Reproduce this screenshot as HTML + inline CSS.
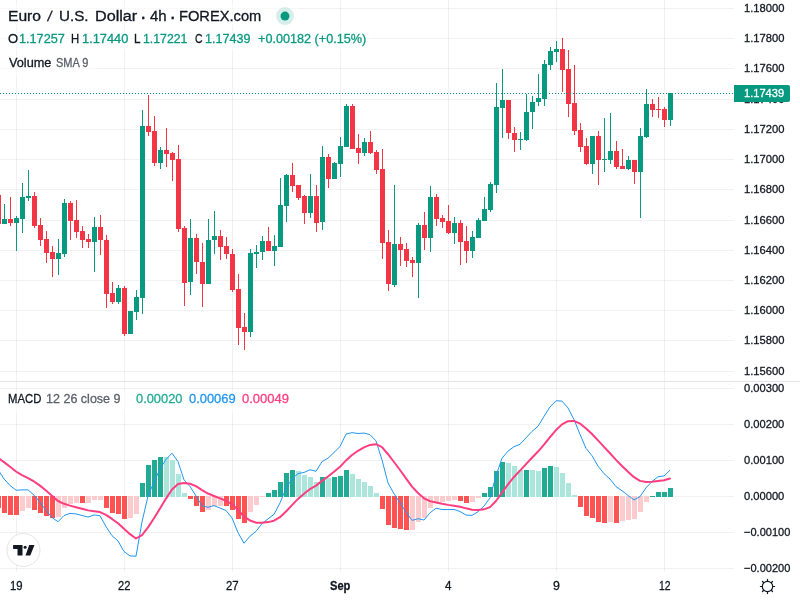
<!DOCTYPE html><html><head><meta charset="utf-8"><title>EURUSD chart</title><style>
html,body{margin:0;padding:0;background:#fff}body{width:800px;height:600px;position:relative;overflow:hidden;font-family:"Liberation Sans",sans-serif}
.t{position:absolute;white-space:pre;line-height:1;margin:0;padding:0;transform-origin:0 0;-webkit-text-stroke:0.3px currentColor}
</style></head><body>
<svg width="800" height="600" viewBox="0 0 800 600" style="position:absolute;left:0;top:0" shape-rendering="crispEdges">
<g fill="#2a2e39" fill-opacity="0.065">
<rect x="16" y="0" width="1" height="572"/>
<rect x="124" y="0" width="1" height="572"/>
<rect x="232" y="0" width="1" height="572"/>
<rect x="340" y="0" width="1" height="572"/>
<rect x="448" y="0" width="1" height="572"/>
<rect x="556" y="0" width="1" height="572"/>
<rect x="664" y="0" width="1" height="572"/>
<rect x="0" y="8" width="734" height="1"/>
<rect x="0" y="38" width="734" height="1"/>
<rect x="0" y="68" width="734" height="1"/>
<rect x="0" y="99" width="734" height="1"/>
<rect x="0" y="129" width="734" height="1"/>
<rect x="0" y="159" width="734" height="1"/>
<rect x="0" y="189" width="734" height="1"/>
<rect x="0" y="220" width="734" height="1"/>
<rect x="0" y="250" width="734" height="1"/>
<rect x="0" y="280" width="734" height="1"/>
<rect x="0" y="310" width="734" height="1"/>
<rect x="0" y="340" width="734" height="1"/>
<rect x="0" y="371" width="734" height="1"/>
<rect x="0" y="388" width="734" height="1"/>
<rect x="0" y="424" width="734" height="1"/>
<rect x="0" y="460" width="734" height="1"/>
<rect x="0" y="496" width="734" height="1"/>
<rect x="0" y="532" width="734" height="1"/>
<rect x="0" y="568" width="734" height="1"/>
</g>
<g fill="#fff" fill-opacity="0.55"><rect x="0" y="4" width="298" height="24"/><rect x="0" y="30" width="371" height="20"/><rect x="0" y="56" width="97" height="20"/><rect x="0" y="391" width="295" height="20"/></g>
<rect x="0" y="381" width="800" height="1" fill="#e0e3eb"/>
<g>
<rect x="-4" y="496" width="5" height="12" fill="#ff5252"/>
<rect x="2" y="496" width="5" height="17" fill="#ff5252"/>
<rect x="8" y="496" width="5" height="19" fill="#ff5252"/>
<rect x="14" y="496" width="5" height="19" fill="#ff5252"/>
<rect x="20" y="496" width="5" height="15" fill="#fccbcd"/>
<rect x="26" y="496" width="5" height="12" fill="#fccbcd"/>
<rect x="32" y="496" width="5" height="14" fill="#ff5252"/>
<rect x="38" y="496" width="5" height="17" fill="#ff5252"/>
<rect x="44" y="496" width="5" height="20" fill="#ff5252"/>
<rect x="50" y="496" width="5" height="22" fill="#ff5252"/>
<rect x="56" y="496" width="5" height="21" fill="#fccbcd"/>
<rect x="62" y="496" width="5" height="12" fill="#fccbcd"/>
<rect x="68" y="496" width="5" height="8" fill="#fccbcd"/>
<rect x="74" y="496" width="5" height="7" fill="#fccbcd"/>
<rect x="80" y="496" width="5" height="7" fill="#ff5252"/>
<rect x="86" y="496" width="5" height="7" fill="#fccbcd"/>
<rect x="92" y="496" width="5" height="4" fill="#fccbcd"/>
<rect x="98" y="496" width="5" height="4" fill="#fccbcd"/>
<rect x="104" y="496" width="5" height="12" fill="#ff5252"/>
<rect x="110" y="496" width="5" height="17" fill="#ff5252"/>
<rect x="116" y="496" width="5" height="18" fill="#ff5252"/>
<rect x="122" y="496" width="5" height="23" fill="#ff5252"/>
<rect x="128" y="496" width="5" height="22" fill="#fccbcd"/>
<rect x="134" y="496" width="5" height="18" fill="#fccbcd"/>
<rect x="140" y="483" width="5" height="14" fill="#22ab94"/>
<rect x="146" y="465" width="5" height="32" fill="#22ab94"/>
<rect x="152" y="460" width="5" height="37" fill="#22ab94"/>
<rect x="158" y="457" width="5" height="40" fill="#22ab94"/>
<rect x="164" y="457" width="5" height="40" fill="#ace5dc"/>
<rect x="170" y="460" width="5" height="37" fill="#ace5dc"/>
<rect x="176" y="474" width="5" height="23" fill="#ace5dc"/>
<rect x="182" y="493" width="5" height="4" fill="#ace5dc"/>
<rect x="188" y="496" width="5" height="3" fill="#ff5252"/>
<rect x="194" y="496" width="5" height="10" fill="#ff5252"/>
<rect x="200" y="496" width="5" height="16" fill="#ff5252"/>
<rect x="206" y="496" width="5" height="14" fill="#fccbcd"/>
<rect x="212" y="496" width="5" height="10" fill="#fccbcd"/>
<rect x="218" y="496" width="5" height="10" fill="#fccbcd"/>
<rect x="224" y="496" width="5" height="10" fill="#ff5252"/>
<rect x="230" y="496" width="5" height="14" fill="#ff5252"/>
<rect x="236" y="496" width="5" height="23" fill="#ff5252"/>
<rect x="242" y="496" width="5" height="27" fill="#ff5252"/>
<rect x="248" y="496" width="5" height="16" fill="#fccbcd"/>
<rect x="254" y="496" width="5" height="9" fill="#fccbcd"/>
<rect x="260" y="496" width="5" height="1" fill="#fccbcd"/>
<rect x="266" y="493" width="5" height="4" fill="#22ab94"/>
<rect x="272" y="490" width="5" height="7" fill="#22ab94"/>
<rect x="278" y="482" width="5" height="15" fill="#22ab94"/>
<rect x="284" y="473" width="5" height="24" fill="#22ab94"/>
<rect x="290" y="470" width="5" height="27" fill="#22ab94"/>
<rect x="296" y="471" width="5" height="26" fill="#ace5dc"/>
<rect x="302" y="475" width="5" height="22" fill="#ace5dc"/>
<rect x="308" y="477" width="5" height="20" fill="#ace5dc"/>
<rect x="314" y="482" width="5" height="15" fill="#ace5dc"/>
<rect x="320" y="477" width="5" height="20" fill="#22ab94"/>
<rect x="326" y="478" width="5" height="19" fill="#ace5dc"/>
<rect x="332" y="477" width="5" height="20" fill="#22ab94"/>
<rect x="338" y="476" width="5" height="21" fill="#22ab94"/>
<rect x="344" y="470" width="5" height="27" fill="#22ab94"/>
<rect x="350" y="474" width="5" height="23" fill="#ace5dc"/>
<rect x="356" y="479" width="5" height="18" fill="#ace5dc"/>
<rect x="362" y="482" width="5" height="15" fill="#ace5dc"/>
<rect x="368" y="486" width="5" height="11" fill="#ace5dc"/>
<rect x="374" y="493" width="5" height="4" fill="#ace5dc"/>
<rect x="380" y="496" width="5" height="13" fill="#ff5252"/>
<rect x="386" y="496" width="5" height="29" fill="#ff5252"/>
<rect x="392" y="496" width="5" height="32" fill="#ff5252"/>
<rect x="398" y="496" width="5" height="33" fill="#ff5252"/>
<rect x="404" y="496" width="5" height="34" fill="#ff5252"/>
<rect x="410" y="496" width="5" height="34" fill="#fccbcd"/>
<rect x="416" y="496" width="5" height="26" fill="#fccbcd"/>
<rect x="422" y="496" width="5" height="22" fill="#fccbcd"/>
<rect x="428" y="496" width="5" height="12" fill="#fccbcd"/>
<rect x="434" y="496" width="5" height="6" fill="#fccbcd"/>
<rect x="440" y="496" width="5" height="6" fill="#fccbcd"/>
<rect x="446" y="496" width="5" height="5" fill="#fccbcd"/>
<rect x="452" y="496" width="5" height="4" fill="#fccbcd"/>
<rect x="458" y="496" width="5" height="5" fill="#ff5252"/>
<rect x="464" y="496" width="5" height="7" fill="#ff5252"/>
<rect x="470" y="496" width="5" height="6" fill="#fccbcd"/>
<rect x="476" y="496" width="5" height="2" fill="#fccbcd"/>
<rect x="482" y="493" width="5" height="4" fill="#22ab94"/>
<rect x="488" y="487" width="5" height="10" fill="#22ab94"/>
<rect x="494" y="471" width="5" height="26" fill="#22ab94"/>
<rect x="500" y="462" width="5" height="35" fill="#22ab94"/>
<rect x="506" y="463" width="5" height="34" fill="#ace5dc"/>
<rect x="512" y="466" width="5" height="31" fill="#ace5dc"/>
<rect x="518" y="470" width="5" height="27" fill="#ace5dc"/>
<rect x="524" y="470" width="5" height="27" fill="#22ab94"/>
<rect x="530" y="470" width="5" height="27" fill="#ace5dc"/>
<rect x="536" y="471" width="5" height="26" fill="#ace5dc"/>
<rect x="542" y="468" width="5" height="29" fill="#22ab94"/>
<rect x="548" y="466" width="5" height="31" fill="#22ab94"/>
<rect x="554" y="467" width="5" height="30" fill="#ace5dc"/>
<rect x="560" y="473" width="5" height="24" fill="#ace5dc"/>
<rect x="566" y="483" width="5" height="14" fill="#ace5dc"/>
<rect x="572" y="495" width="5" height="2" fill="#ace5dc"/>
<rect x="578" y="496" width="5" height="11" fill="#ff5252"/>
<rect x="584" y="496" width="5" height="20" fill="#ff5252"/>
<rect x="590" y="496" width="5" height="22" fill="#ff5252"/>
<rect x="596" y="496" width="5" height="26" fill="#ff5252"/>
<rect x="602" y="496" width="5" height="27" fill="#ff5252"/>
<rect x="608" y="496" width="5" height="26" fill="#fccbcd"/>
<rect x="614" y="496" width="5" height="27" fill="#ff5252"/>
<rect x="620" y="496" width="5" height="25" fill="#fccbcd"/>
<rect x="626" y="496" width="5" height="24" fill="#fccbcd"/>
<rect x="632" y="496" width="5" height="23" fill="#fccbcd"/>
<rect x="638" y="496" width="5" height="16" fill="#fccbcd"/>
<rect x="644" y="496" width="5" height="6" fill="#fccbcd"/>
<rect x="650" y="496" width="5" height="1" fill="#22ab94"/>
<rect x="656" y="492" width="5" height="5" fill="#22ab94"/>
<rect x="662" y="492" width="5" height="5" fill="#22ab94"/>
<rect x="668" y="488" width="5" height="9" fill="#22ab94"/>
</g>
<g>
<rect x="-2" y="195" width="1" height="29" fill="#f23645"/>
<rect x="-4" y="195" width="5" height="29" fill="#f23645"/>
<rect x="4" y="204" width="1" height="20" fill="#089981"/>
<rect x="2" y="219" width="5" height="5" fill="#089981"/>
<rect x="10" y="197" width="1" height="29" fill="#f23645"/>
<rect x="8" y="219" width="5" height="4" fill="#f23645"/>
<rect x="16" y="216" width="1" height="35" fill="#089981"/>
<rect x="14" y="218" width="5" height="5" fill="#089981"/>
<rect x="22" y="183" width="1" height="50" fill="#089981"/>
<rect x="20" y="197" width="5" height="22" fill="#089981"/>
<rect x="28" y="170" width="1" height="31" fill="#089981"/>
<rect x="26" y="196" width="5" height="2" fill="#089981"/>
<rect x="34" y="192" width="1" height="36" fill="#f23645"/>
<rect x="32" y="196" width="5" height="30" fill="#f23645"/>
<rect x="40" y="218" width="1" height="28" fill="#f23645"/>
<rect x="38" y="225" width="5" height="15" fill="#f23645"/>
<rect x="46" y="231" width="1" height="32" fill="#f23645"/>
<rect x="44" y="239" width="5" height="14" fill="#f23645"/>
<rect x="52" y="246" width="1" height="31" fill="#f23645"/>
<rect x="50" y="252" width="5" height="7" fill="#f23645"/>
<rect x="58" y="239" width="1" height="36" fill="#089981"/>
<rect x="56" y="253" width="5" height="6" fill="#089981"/>
<rect x="64" y="199" width="1" height="58" fill="#089981"/>
<rect x="62" y="203" width="5" height="51" fill="#089981"/>
<rect x="70" y="201" width="1" height="39" fill="#f23645"/>
<rect x="68" y="203" width="5" height="18" fill="#f23645"/>
<rect x="76" y="200" width="1" height="38" fill="#f23645"/>
<rect x="74" y="220" width="5" height="12" fill="#f23645"/>
<rect x="82" y="226" width="1" height="22" fill="#f23645"/>
<rect x="80" y="231" width="5" height="9" fill="#f23645"/>
<rect x="88" y="234" width="1" height="14" fill="#f23645"/>
<rect x="86" y="239" width="5" height="3" fill="#f23645"/>
<rect x="94" y="217" width="1" height="55" fill="#089981"/>
<rect x="92" y="227" width="5" height="15" fill="#089981"/>
<rect x="100" y="215" width="1" height="40" fill="#f23645"/>
<rect x="98" y="227" width="5" height="13" fill="#f23645"/>
<rect x="106" y="235" width="1" height="73" fill="#f23645"/>
<rect x="104" y="240" width="5" height="54" fill="#f23645"/>
<rect x="112" y="282" width="1" height="22" fill="#f23645"/>
<rect x="110" y="293" width="5" height="9" fill="#f23645"/>
<rect x="118" y="285" width="1" height="19" fill="#089981"/>
<rect x="116" y="288" width="5" height="14" fill="#089981"/>
<rect x="124" y="286" width="1" height="50" fill="#f23645"/>
<rect x="122" y="288" width="5" height="46" fill="#f23645"/>
<rect x="130" y="311" width="1" height="23" fill="#089981"/>
<rect x="128" y="311" width="5" height="23" fill="#089981"/>
<rect x="136" y="290" width="1" height="30" fill="#089981"/>
<rect x="134" y="297" width="5" height="15" fill="#089981"/>
<rect x="142" y="110" width="1" height="204" fill="#089981"/>
<rect x="140" y="126" width="5" height="172" fill="#089981"/>
<rect x="148" y="95" width="1" height="41" fill="#f23645"/>
<rect x="146" y="126" width="5" height="6" fill="#f23645"/>
<rect x="154" y="116" width="1" height="50" fill="#f23645"/>
<rect x="152" y="131" width="5" height="32" fill="#f23645"/>
<rect x="160" y="147" width="1" height="22" fill="#089981"/>
<rect x="158" y="150" width="5" height="13" fill="#089981"/>
<rect x="166" y="128" width="1" height="39" fill="#f23645"/>
<rect x="164" y="150" width="5" height="4" fill="#f23645"/>
<rect x="172" y="152" width="1" height="29" fill="#f23645"/>
<rect x="170" y="153" width="5" height="7" fill="#f23645"/>
<rect x="178" y="145" width="1" height="87" fill="#f23645"/>
<rect x="176" y="159" width="5" height="70" fill="#f23645"/>
<rect x="184" y="226" width="1" height="80" fill="#f23645"/>
<rect x="182" y="228" width="5" height="55" fill="#f23645"/>
<rect x="190" y="219" width="1" height="76" fill="#089981"/>
<rect x="188" y="238" width="5" height="44" fill="#089981"/>
<rect x="196" y="234" width="1" height="40" fill="#f23645"/>
<rect x="194" y="238" width="5" height="24" fill="#f23645"/>
<rect x="202" y="243" width="1" height="64" fill="#f23645"/>
<rect x="200" y="262" width="5" height="22" fill="#f23645"/>
<rect x="208" y="219" width="1" height="65" fill="#089981"/>
<rect x="206" y="240" width="5" height="44" fill="#089981"/>
<rect x="214" y="211" width="1" height="43" fill="#089981"/>
<rect x="212" y="236" width="5" height="4" fill="#089981"/>
<rect x="220" y="230" width="1" height="30" fill="#f23645"/>
<rect x="218" y="236" width="5" height="11" fill="#f23645"/>
<rect x="226" y="237" width="1" height="22" fill="#f23645"/>
<rect x="224" y="246" width="5" height="8" fill="#f23645"/>
<rect x="232" y="249" width="1" height="43" fill="#f23645"/>
<rect x="230" y="254" width="5" height="36" fill="#f23645"/>
<rect x="238" y="274" width="1" height="71" fill="#f23645"/>
<rect x="236" y="289" width="5" height="39" fill="#f23645"/>
<rect x="244" y="313" width="1" height="37" fill="#f23645"/>
<rect x="242" y="327" width="5" height="5" fill="#f23645"/>
<rect x="250" y="249" width="1" height="88" fill="#089981"/>
<rect x="248" y="253" width="5" height="79" fill="#089981"/>
<rect x="256" y="245" width="1" height="23" fill="#089981"/>
<rect x="254" y="252" width="5" height="2" fill="#089981"/>
<rect x="262" y="236" width="1" height="24" fill="#089981"/>
<rect x="260" y="241" width="5" height="11" fill="#089981"/>
<rect x="268" y="227" width="1" height="24" fill="#f23645"/>
<rect x="266" y="241" width="5" height="10" fill="#f23645"/>
<rect x="274" y="235" width="1" height="31" fill="#089981"/>
<rect x="272" y="246" width="5" height="5" fill="#089981"/>
<rect x="280" y="178" width="1" height="69" fill="#089981"/>
<rect x="278" y="205" width="5" height="42" fill="#089981"/>
<rect x="286" y="174" width="1" height="48" fill="#089981"/>
<rect x="284" y="175" width="5" height="31" fill="#089981"/>
<rect x="292" y="163" width="1" height="29" fill="#f23645"/>
<rect x="290" y="175" width="5" height="11" fill="#f23645"/>
<rect x="298" y="185" width="1" height="15" fill="#f23645"/>
<rect x="296" y="185" width="5" height="13" fill="#f23645"/>
<rect x="304" y="195" width="1" height="29" fill="#f23645"/>
<rect x="302" y="196" width="5" height="17" fill="#f23645"/>
<rect x="310" y="174" width="1" height="44" fill="#089981"/>
<rect x="308" y="196" width="5" height="17" fill="#089981"/>
<rect x="316" y="185" width="1" height="47" fill="#f23645"/>
<rect x="314" y="196" width="5" height="27" fill="#f23645"/>
<rect x="322" y="146" width="1" height="84" fill="#089981"/>
<rect x="320" y="157" width="5" height="65" fill="#089981"/>
<rect x="328" y="154" width="1" height="34" fill="#f23645"/>
<rect x="326" y="157" width="5" height="22" fill="#f23645"/>
<rect x="334" y="162" width="1" height="17" fill="#089981"/>
<rect x="332" y="163" width="5" height="16" fill="#089981"/>
<rect x="340" y="137" width="1" height="40" fill="#089981"/>
<rect x="338" y="146" width="5" height="18" fill="#089981"/>
<rect x="346" y="104" width="1" height="43" fill="#089981"/>
<rect x="344" y="106" width="5" height="41" fill="#089981"/>
<rect x="352" y="104" width="1" height="45" fill="#f23645"/>
<rect x="350" y="106" width="5" height="43" fill="#f23645"/>
<rect x="358" y="134" width="1" height="30" fill="#f23645"/>
<rect x="356" y="148" width="5" height="5" fill="#f23645"/>
<rect x="364" y="138" width="1" height="18" fill="#089981"/>
<rect x="362" y="142" width="5" height="11" fill="#089981"/>
<rect x="370" y="131" width="1" height="23" fill="#f23645"/>
<rect x="368" y="142" width="5" height="11" fill="#f23645"/>
<rect x="376" y="150" width="1" height="24" fill="#f23645"/>
<rect x="374" y="152" width="5" height="18" fill="#f23645"/>
<rect x="382" y="149" width="1" height="110" fill="#f23645"/>
<rect x="380" y="169" width="5" height="74" fill="#f23645"/>
<rect x="388" y="230" width="1" height="61" fill="#f23645"/>
<rect x="386" y="242" width="5" height="42" fill="#f23645"/>
<rect x="394" y="185" width="1" height="102" fill="#089981"/>
<rect x="392" y="244" width="5" height="41" fill="#089981"/>
<rect x="400" y="237" width="1" height="29" fill="#f23645"/>
<rect x="398" y="244" width="5" height="6" fill="#f23645"/>
<rect x="406" y="243" width="1" height="24" fill="#f23645"/>
<rect x="404" y="249" width="5" height="12" fill="#f23645"/>
<rect x="412" y="257" width="1" height="20" fill="#f23645"/>
<rect x="410" y="260" width="5" height="3" fill="#f23645"/>
<rect x="418" y="223" width="1" height="75" fill="#089981"/>
<rect x="416" y="225" width="5" height="38" fill="#089981"/>
<rect x="424" y="212" width="1" height="38" fill="#f23645"/>
<rect x="422" y="225" width="5" height="13" fill="#f23645"/>
<rect x="430" y="186" width="1" height="66" fill="#089981"/>
<rect x="428" y="197" width="5" height="41" fill="#089981"/>
<rect x="436" y="194" width="1" height="32" fill="#f23645"/>
<rect x="434" y="197" width="5" height="22" fill="#f23645"/>
<rect x="442" y="215" width="1" height="13" fill="#f23645"/>
<rect x="440" y="218" width="5" height="4" fill="#f23645"/>
<rect x="448" y="205" width="1" height="29" fill="#f23645"/>
<rect x="446" y="221" width="5" height="12" fill="#f23645"/>
<rect x="454" y="217" width="1" height="27" fill="#089981"/>
<rect x="452" y="223" width="5" height="10" fill="#089981"/>
<rect x="460" y="220" width="1" height="45" fill="#f23645"/>
<rect x="458" y="223" width="5" height="19" fill="#f23645"/>
<rect x="466" y="226" width="1" height="37" fill="#f23645"/>
<rect x="464" y="241" width="5" height="10" fill="#f23645"/>
<rect x="472" y="231" width="1" height="27" fill="#089981"/>
<rect x="470" y="237" width="5" height="14" fill="#089981"/>
<rect x="478" y="218" width="1" height="20" fill="#089981"/>
<rect x="476" y="220" width="5" height="18" fill="#089981"/>
<rect x="484" y="197" width="1" height="24" fill="#089981"/>
<rect x="482" y="209" width="5" height="12" fill="#089981"/>
<rect x="490" y="182" width="1" height="30" fill="#089981"/>
<rect x="488" y="184" width="5" height="26" fill="#089981"/>
<rect x="496" y="83" width="1" height="110" fill="#089981"/>
<rect x="494" y="107" width="5" height="78" fill="#089981"/>
<rect x="502" y="69" width="1" height="69" fill="#089981"/>
<rect x="500" y="100" width="5" height="8" fill="#089981"/>
<rect x="508" y="100" width="1" height="39" fill="#f23645"/>
<rect x="506" y="100" width="5" height="33" fill="#f23645"/>
<rect x="514" y="127" width="1" height="25" fill="#f23645"/>
<rect x="512" y="133" width="5" height="7" fill="#f23645"/>
<rect x="520" y="132" width="1" height="18" fill="#089981"/>
<rect x="518" y="139" width="5" height="1" fill="#089981"/>
<rect x="526" y="94" width="1" height="47" fill="#089981"/>
<rect x="524" y="112" width="5" height="28" fill="#089981"/>
<rect x="532" y="96" width="1" height="33" fill="#089981"/>
<rect x="530" y="102" width="5" height="10" fill="#089981"/>
<rect x="538" y="74" width="1" height="32" fill="#089981"/>
<rect x="536" y="98" width="5" height="4" fill="#089981"/>
<rect x="544" y="60" width="1" height="46" fill="#089981"/>
<rect x="542" y="64" width="5" height="35" fill="#089981"/>
<rect x="550" y="47" width="1" height="23" fill="#089981"/>
<rect x="548" y="51" width="5" height="14" fill="#089981"/>
<rect x="556" y="41" width="1" height="21" fill="#089981"/>
<rect x="554" y="49" width="5" height="3" fill="#089981"/>
<rect x="562" y="38" width="1" height="54" fill="#f23645"/>
<rect x="560" y="49" width="5" height="21" fill="#f23645"/>
<rect x="568" y="50" width="1" height="67" fill="#f23645"/>
<rect x="566" y="69" width="5" height="35" fill="#f23645"/>
<rect x="574" y="65" width="1" height="70" fill="#f23645"/>
<rect x="572" y="103" width="5" height="28" fill="#f23645"/>
<rect x="580" y="123" width="1" height="29" fill="#f23645"/>
<rect x="578" y="130" width="5" height="17" fill="#f23645"/>
<rect x="586" y="138" width="1" height="27" fill="#f23645"/>
<rect x="584" y="146" width="5" height="18" fill="#f23645"/>
<rect x="592" y="136" width="1" height="38" fill="#089981"/>
<rect x="590" y="136" width="5" height="28" fill="#089981"/>
<rect x="598" y="131" width="1" height="54" fill="#f23645"/>
<rect x="596" y="136" width="5" height="24" fill="#f23645"/>
<rect x="604" y="118" width="1" height="54" fill="#089981"/>
<rect x="602" y="159" width="5" height="1" fill="#089981"/>
<rect x="610" y="113" width="1" height="51" fill="#089981"/>
<rect x="608" y="151" width="5" height="9" fill="#089981"/>
<rect x="616" y="141" width="1" height="28" fill="#f23645"/>
<rect x="614" y="151" width="5" height="16" fill="#f23645"/>
<rect x="622" y="149" width="1" height="20" fill="#f23645"/>
<rect x="620" y="166" width="5" height="3" fill="#f23645"/>
<rect x="628" y="156" width="1" height="14" fill="#089981"/>
<rect x="626" y="160" width="5" height="9" fill="#089981"/>
<rect x="634" y="160" width="1" height="24" fill="#f23645"/>
<rect x="632" y="160" width="5" height="12" fill="#f23645"/>
<rect x="640" y="128" width="1" height="90" fill="#089981"/>
<rect x="638" y="136" width="5" height="36" fill="#089981"/>
<rect x="646" y="89" width="1" height="49" fill="#089981"/>
<rect x="644" y="104" width="5" height="33" fill="#089981"/>
<rect x="652" y="99" width="1" height="18" fill="#f23645"/>
<rect x="650" y="104" width="5" height="6" fill="#f23645"/>
<rect x="658" y="97" width="1" height="21" fill="#f23645"/>
<rect x="656" y="109" width="5" height="1" fill="#f23645"/>
<rect x="664" y="107" width="1" height="20" fill="#f23645"/>
<rect x="662" y="109" width="5" height="11" fill="#f23645"/>
<rect x="670" y="93" width="1" height="33" fill="#089981"/>
<rect x="668" y="93" width="5" height="27" fill="#089981"/>
</g>
<g fill="#089981">
<rect x="0" y="93" width="1" height="1"/>
<rect x="3" y="93" width="1" height="1"/>
<rect x="6" y="93" width="1" height="1"/>
<rect x="9" y="93" width="1" height="1"/>
<rect x="12" y="93" width="1" height="1"/>
<rect x="15" y="93" width="1" height="1"/>
<rect x="18" y="93" width="1" height="1"/>
<rect x="21" y="93" width="1" height="1"/>
<rect x="24" y="93" width="1" height="1"/>
<rect x="27" y="93" width="1" height="1"/>
<rect x="30" y="93" width="1" height="1"/>
<rect x="33" y="93" width="1" height="1"/>
<rect x="36" y="93" width="1" height="1"/>
<rect x="39" y="93" width="1" height="1"/>
<rect x="42" y="93" width="1" height="1"/>
<rect x="45" y="93" width="1" height="1"/>
<rect x="48" y="93" width="1" height="1"/>
<rect x="51" y="93" width="1" height="1"/>
<rect x="54" y="93" width="1" height="1"/>
<rect x="57" y="93" width="1" height="1"/>
<rect x="60" y="93" width="1" height="1"/>
<rect x="63" y="93" width="1" height="1"/>
<rect x="66" y="93" width="1" height="1"/>
<rect x="69" y="93" width="1" height="1"/>
<rect x="72" y="93" width="1" height="1"/>
<rect x="75" y="93" width="1" height="1"/>
<rect x="78" y="93" width="1" height="1"/>
<rect x="81" y="93" width="1" height="1"/>
<rect x="84" y="93" width="1" height="1"/>
<rect x="87" y="93" width="1" height="1"/>
<rect x="90" y="93" width="1" height="1"/>
<rect x="93" y="93" width="1" height="1"/>
<rect x="96" y="93" width="1" height="1"/>
<rect x="99" y="93" width="1" height="1"/>
<rect x="102" y="93" width="1" height="1"/>
<rect x="105" y="93" width="1" height="1"/>
<rect x="108" y="93" width="1" height="1"/>
<rect x="111" y="93" width="1" height="1"/>
<rect x="114" y="93" width="1" height="1"/>
<rect x="117" y="93" width="1" height="1"/>
<rect x="120" y="93" width="1" height="1"/>
<rect x="123" y="93" width="1" height="1"/>
<rect x="126" y="93" width="1" height="1"/>
<rect x="129" y="93" width="1" height="1"/>
<rect x="132" y="93" width="1" height="1"/>
<rect x="135" y="93" width="1" height="1"/>
<rect x="138" y="93" width="1" height="1"/>
<rect x="141" y="93" width="1" height="1"/>
<rect x="144" y="93" width="1" height="1"/>
<rect x="147" y="93" width="1" height="1"/>
<rect x="150" y="93" width="1" height="1"/>
<rect x="153" y="93" width="1" height="1"/>
<rect x="156" y="93" width="1" height="1"/>
<rect x="159" y="93" width="1" height="1"/>
<rect x="162" y="93" width="1" height="1"/>
<rect x="165" y="93" width="1" height="1"/>
<rect x="168" y="93" width="1" height="1"/>
<rect x="171" y="93" width="1" height="1"/>
<rect x="174" y="93" width="1" height="1"/>
<rect x="177" y="93" width="1" height="1"/>
<rect x="180" y="93" width="1" height="1"/>
<rect x="183" y="93" width="1" height="1"/>
<rect x="186" y="93" width="1" height="1"/>
<rect x="189" y="93" width="1" height="1"/>
<rect x="192" y="93" width="1" height="1"/>
<rect x="195" y="93" width="1" height="1"/>
<rect x="198" y="93" width="1" height="1"/>
<rect x="201" y="93" width="1" height="1"/>
<rect x="204" y="93" width="1" height="1"/>
<rect x="207" y="93" width="1" height="1"/>
<rect x="210" y="93" width="1" height="1"/>
<rect x="213" y="93" width="1" height="1"/>
<rect x="216" y="93" width="1" height="1"/>
<rect x="219" y="93" width="1" height="1"/>
<rect x="222" y="93" width="1" height="1"/>
<rect x="225" y="93" width="1" height="1"/>
<rect x="228" y="93" width="1" height="1"/>
<rect x="231" y="93" width="1" height="1"/>
<rect x="234" y="93" width="1" height="1"/>
<rect x="237" y="93" width="1" height="1"/>
<rect x="240" y="93" width="1" height="1"/>
<rect x="243" y="93" width="1" height="1"/>
<rect x="246" y="93" width="1" height="1"/>
<rect x="249" y="93" width="1" height="1"/>
<rect x="252" y="93" width="1" height="1"/>
<rect x="255" y="93" width="1" height="1"/>
<rect x="258" y="93" width="1" height="1"/>
<rect x="261" y="93" width="1" height="1"/>
<rect x="264" y="93" width="1" height="1"/>
<rect x="267" y="93" width="1" height="1"/>
<rect x="270" y="93" width="1" height="1"/>
<rect x="273" y="93" width="1" height="1"/>
<rect x="276" y="93" width="1" height="1"/>
<rect x="279" y="93" width="1" height="1"/>
<rect x="282" y="93" width="1" height="1"/>
<rect x="285" y="93" width="1" height="1"/>
<rect x="288" y="93" width="1" height="1"/>
<rect x="291" y="93" width="1" height="1"/>
<rect x="294" y="93" width="1" height="1"/>
<rect x="297" y="93" width="1" height="1"/>
<rect x="300" y="93" width="1" height="1"/>
<rect x="303" y="93" width="1" height="1"/>
<rect x="306" y="93" width="1" height="1"/>
<rect x="309" y="93" width="1" height="1"/>
<rect x="312" y="93" width="1" height="1"/>
<rect x="315" y="93" width="1" height="1"/>
<rect x="318" y="93" width="1" height="1"/>
<rect x="321" y="93" width="1" height="1"/>
<rect x="324" y="93" width="1" height="1"/>
<rect x="327" y="93" width="1" height="1"/>
<rect x="330" y="93" width="1" height="1"/>
<rect x="333" y="93" width="1" height="1"/>
<rect x="336" y="93" width="1" height="1"/>
<rect x="339" y="93" width="1" height="1"/>
<rect x="342" y="93" width="1" height="1"/>
<rect x="345" y="93" width="1" height="1"/>
<rect x="348" y="93" width="1" height="1"/>
<rect x="351" y="93" width="1" height="1"/>
<rect x="354" y="93" width="1" height="1"/>
<rect x="357" y="93" width="1" height="1"/>
<rect x="360" y="93" width="1" height="1"/>
<rect x="363" y="93" width="1" height="1"/>
<rect x="366" y="93" width="1" height="1"/>
<rect x="369" y="93" width="1" height="1"/>
<rect x="372" y="93" width="1" height="1"/>
<rect x="375" y="93" width="1" height="1"/>
<rect x="378" y="93" width="1" height="1"/>
<rect x="381" y="93" width="1" height="1"/>
<rect x="384" y="93" width="1" height="1"/>
<rect x="387" y="93" width="1" height="1"/>
<rect x="390" y="93" width="1" height="1"/>
<rect x="393" y="93" width="1" height="1"/>
<rect x="396" y="93" width="1" height="1"/>
<rect x="399" y="93" width="1" height="1"/>
<rect x="402" y="93" width="1" height="1"/>
<rect x="405" y="93" width="1" height="1"/>
<rect x="408" y="93" width="1" height="1"/>
<rect x="411" y="93" width="1" height="1"/>
<rect x="414" y="93" width="1" height="1"/>
<rect x="417" y="93" width="1" height="1"/>
<rect x="420" y="93" width="1" height="1"/>
<rect x="423" y="93" width="1" height="1"/>
<rect x="426" y="93" width="1" height="1"/>
<rect x="429" y="93" width="1" height="1"/>
<rect x="432" y="93" width="1" height="1"/>
<rect x="435" y="93" width="1" height="1"/>
<rect x="438" y="93" width="1" height="1"/>
<rect x="441" y="93" width="1" height="1"/>
<rect x="444" y="93" width="1" height="1"/>
<rect x="447" y="93" width="1" height="1"/>
<rect x="450" y="93" width="1" height="1"/>
<rect x="453" y="93" width="1" height="1"/>
<rect x="456" y="93" width="1" height="1"/>
<rect x="459" y="93" width="1" height="1"/>
<rect x="462" y="93" width="1" height="1"/>
<rect x="465" y="93" width="1" height="1"/>
<rect x="468" y="93" width="1" height="1"/>
<rect x="471" y="93" width="1" height="1"/>
<rect x="474" y="93" width="1" height="1"/>
<rect x="477" y="93" width="1" height="1"/>
<rect x="480" y="93" width="1" height="1"/>
<rect x="483" y="93" width="1" height="1"/>
<rect x="486" y="93" width="1" height="1"/>
<rect x="489" y="93" width="1" height="1"/>
<rect x="492" y="93" width="1" height="1"/>
<rect x="495" y="93" width="1" height="1"/>
<rect x="498" y="93" width="1" height="1"/>
<rect x="501" y="93" width="1" height="1"/>
<rect x="504" y="93" width="1" height="1"/>
<rect x="507" y="93" width="1" height="1"/>
<rect x="510" y="93" width="1" height="1"/>
<rect x="513" y="93" width="1" height="1"/>
<rect x="516" y="93" width="1" height="1"/>
<rect x="519" y="93" width="1" height="1"/>
<rect x="522" y="93" width="1" height="1"/>
<rect x="525" y="93" width="1" height="1"/>
<rect x="528" y="93" width="1" height="1"/>
<rect x="531" y="93" width="1" height="1"/>
<rect x="534" y="93" width="1" height="1"/>
<rect x="537" y="93" width="1" height="1"/>
<rect x="540" y="93" width="1" height="1"/>
<rect x="543" y="93" width="1" height="1"/>
<rect x="546" y="93" width="1" height="1"/>
<rect x="549" y="93" width="1" height="1"/>
<rect x="552" y="93" width="1" height="1"/>
<rect x="555" y="93" width="1" height="1"/>
<rect x="558" y="93" width="1" height="1"/>
<rect x="561" y="93" width="1" height="1"/>
<rect x="564" y="93" width="1" height="1"/>
<rect x="567" y="93" width="1" height="1"/>
<rect x="570" y="93" width="1" height="1"/>
<rect x="573" y="93" width="1" height="1"/>
<rect x="576" y="93" width="1" height="1"/>
<rect x="579" y="93" width="1" height="1"/>
<rect x="582" y="93" width="1" height="1"/>
<rect x="585" y="93" width="1" height="1"/>
<rect x="588" y="93" width="1" height="1"/>
<rect x="591" y="93" width="1" height="1"/>
<rect x="594" y="93" width="1" height="1"/>
<rect x="597" y="93" width="1" height="1"/>
<rect x="600" y="93" width="1" height="1"/>
<rect x="603" y="93" width="1" height="1"/>
<rect x="606" y="93" width="1" height="1"/>
<rect x="609" y="93" width="1" height="1"/>
<rect x="612" y="93" width="1" height="1"/>
<rect x="615" y="93" width="1" height="1"/>
<rect x="618" y="93" width="1" height="1"/>
<rect x="621" y="93" width="1" height="1"/>
<rect x="624" y="93" width="1" height="1"/>
<rect x="627" y="93" width="1" height="1"/>
<rect x="630" y="93" width="1" height="1"/>
<rect x="633" y="93" width="1" height="1"/>
<rect x="636" y="93" width="1" height="1"/>
<rect x="639" y="93" width="1" height="1"/>
<rect x="642" y="93" width="1" height="1"/>
<rect x="645" y="93" width="1" height="1"/>
<rect x="648" y="93" width="1" height="1"/>
<rect x="651" y="93" width="1" height="1"/>
<rect x="654" y="93" width="1" height="1"/>
<rect x="657" y="93" width="1" height="1"/>
<rect x="660" y="93" width="1" height="1"/>
<rect x="663" y="93" width="1" height="1"/>
<rect x="666" y="93" width="1" height="1"/>
<rect x="669" y="93" width="1" height="1"/>
<rect x="672" y="93" width="1" height="1"/>
<rect x="675" y="93" width="1" height="1"/>
<rect x="678" y="93" width="1" height="1"/>
<rect x="681" y="93" width="1" height="1"/>
<rect x="684" y="93" width="1" height="1"/>
<rect x="687" y="93" width="1" height="1"/>
<rect x="690" y="93" width="1" height="1"/>
<rect x="693" y="93" width="1" height="1"/>
<rect x="696" y="93" width="1" height="1"/>
<rect x="699" y="93" width="1" height="1"/>
<rect x="702" y="93" width="1" height="1"/>
<rect x="705" y="93" width="1" height="1"/>
<rect x="708" y="93" width="1" height="1"/>
<rect x="711" y="93" width="1" height="1"/>
<rect x="714" y="93" width="1" height="1"/>
<rect x="717" y="93" width="1" height="1"/>
<rect x="720" y="93" width="1" height="1"/>
<rect x="723" y="93" width="1" height="1"/>
<rect x="726" y="93" width="1" height="1"/>
<rect x="729" y="93" width="1" height="1"/>
<rect x="732" y="93" width="1" height="1"/>
</g>
<path d="M-2.0 469.64 L4.0 478.84 L10.0 485.53 L16.0 490.22 L22.0 489.92 L28.0 489.80 L34.0 495.19 L40.0 502.32 L46.0 510.20 L52.0 517.59 L58.0 521.72 L64.0 515.55 L70.0 513.37 L76.0 513.95 L82.0 515.53 L88.0 517.10 L94.0 514.93 L100.0 515.76 L106.0 526.58 L112.0 535.66 L118.0 540.99 L124.0 551.56 L130.0 555.89 L136.0 556.22 L142.0 521.89 L148.0 496.06 L154.0 481.98 L160.0 469.14 L166.0 459.31 L172.0 453.23 L178.0 461.65 L184.0 479.82 L190.0 486.49 L196.0 495.91 L202.0 505.83 L208.0 507.25 L214.0 505.67 L220.0 508.09 L226.0 510.50 L232.0 517.92 L238.0 532.59 L244.0 543.26 L250.0 536.18 L256.0 531.35 L262.0 523.52 L268.0 518.83 L274.0 514.39 L280.0 502.95 L286.0 488.26 L292.0 478.82 L298.0 473.63 L304.0 472.44 L310.0 469.75 L316.0 471.31 L322.0 461.62 L328.0 458.18 L334.0 452.49 L340.0 446.56 L346.0 434.12 L352.0 432.68 L358.0 433.49 L364.0 433.05 L370.0 434.61 L376.0 440.92 L382.0 459.93 L388.0 482.94 L394.0 493.71 L400.0 502.72 L406.0 512.05 L412.0 520.37 L418.0 518.70 L424.0 520.03 L430.0 512.85 L436.0 508.18 L442.0 509.51 L448.0 509.58 L454.0 509.41 L460.0 511.49 L466.0 515.06 L472.0 515.39 L478.0 511.72 L484.0 506.05 L490.0 497.88 L496.0 475.71 L502.0 458.29 L508.0 451.12 L514.0 446.70 L520.0 444.28 L526.0 437.86 L532.0 431.44 L538.0 426.27 L544.0 416.35 L550.0 406.93 L556.0 400.76 L562.0 401.09 L568.0 407.92 L574.0 419.62 L580.0 434.32 L586.0 448.27 L592.0 455.72 L598.0 466.07 L604.0 473.67 L610.0 479.02 L616.0 486.62 L622.0 490.72 L628.0 495.43 L634.0 499.89 L640.0 496.60 L646.0 487.81 L652.0 481.52 L658.0 476.75 L664.0 475.99 L670.0 470.22" fill="none" stroke="#2196f3" stroke-width="1" stroke-linejoin="round" shape-rendering="auto"/>
<path d="M-2.0 457.92 L4.0 462.12 L10.0 466.81 L16.0 471.51 L22.0 475.20 L28.0 478.08 L34.0 481.47 L40.0 485.60 L46.0 490.48 L52.0 495.87 L58.0 501.00 L64.0 503.83 L70.0 505.65 L76.0 507.23 L82.0 508.81 L88.0 510.38 L94.0 511.21 L100.0 512.04 L106.0 514.87 L112.0 518.94 L118.0 523.27 L124.0 528.85 L130.0 534.17 L136.0 538.50 L142.0 535.17 L148.0 527.34 L154.0 518.26 L160.0 508.43 L166.0 498.60 L172.0 489.51 L178.0 483.93 L184.0 483.10 L190.0 483.77 L196.0 486.19 L202.0 490.11 L208.0 493.53 L214.0 495.95 L220.0 498.37 L226.0 500.79 L232.0 504.20 L238.0 509.87 L244.0 516.54 L250.0 520.46 L256.0 522.63 L262.0 522.80 L268.0 522.11 L274.0 520.67 L280.0 517.23 L286.0 511.54 L292.0 505.10 L298.0 498.91 L304.0 493.72 L310.0 489.03 L316.0 485.59 L322.0 480.91 L328.0 476.47 L334.0 471.78 L340.0 466.84 L346.0 460.40 L352.0 454.96 L358.0 450.77 L364.0 447.33 L370.0 444.89 L376.0 444.20 L382.0 447.21 L388.0 454.23 L394.0 461.99 L400.0 470.00 L406.0 478.33 L412.0 486.65 L418.0 492.98 L424.0 498.31 L430.0 501.13 L436.0 502.46 L442.0 503.79 L448.0 504.87 L454.0 505.69 L460.0 506.77 L466.0 508.35 L472.0 509.67 L478.0 510.00 L484.0 509.33 L490.0 507.16 L496.0 500.99 L502.0 492.57 L508.0 484.40 L514.0 476.98 L520.0 470.56 L526.0 464.14 L532.0 457.72 L538.0 451.55 L544.0 444.63 L550.0 437.21 L556.0 430.04 L562.0 424.37 L568.0 421.20 L574.0 420.90 L580.0 423.60 L586.0 428.55 L592.0 434.00 L598.0 440.35 L604.0 446.95 L610.0 453.30 L616.0 459.90 L622.0 466.00 L628.0 471.71 L634.0 477.17 L640.0 480.88 L646.0 482.09 L652.0 481.80 L658.0 481.03 L664.0 480.27 L670.0 478.50" fill="none" stroke="#ff3d7f" stroke-width="2" stroke-linejoin="round" stroke-linecap="round" shape-rendering="auto"/>
<circle cx="285" cy="16.1" r="9" fill="#089981" fill-opacity="0.16" shape-rendering="auto"/>
<circle cx="285" cy="16.1" r="4.5" fill="#089981" shape-rendering="auto"/>
<g shape-rendering="auto"><circle cx="23.5" cy="550" r="16.5" fill="#fff" stroke="#e4e4e7" stroke-width="1"/>
<g fill="#131722"><path d="M13.1 545H22.5V555.6H17.5V549H13.1Z"/><circle cx="25.1" cy="547.2" r="1.5"/><path d="M29.2 545H34.5L30.3 555.6H25.5Z"/></g></g>
<g shape-rendering="auto" stroke="#131722" fill="none" stroke-width="1.2" stroke-linecap="round"><circle cx="767.5" cy="586.5" r="5.2"/>
<path d="M773.10 586.50L774.60 586.50"/>
<path d="M771.46 590.46L772.52 591.52"/>
<path d="M767.50 592.10L767.50 593.60"/>
<path d="M763.54 590.46L762.48 591.52"/>
<path d="M761.90 586.50L760.40 586.50"/>
<path d="M763.54 582.54L762.48 581.48"/>
<path d="M767.50 580.90L767.50 579.40"/>
<path d="M771.46 582.54L772.52 581.48"/>
</g>
</svg>
<div id="txt" style="position:absolute;left:0;top:0;width:800px;height:600px;will-change:transform">
<div class="t" id="ti1" style="top:9.45px;font-size:14px;color:#131722;transform:scaleX(1.1163);left:8.36px;">Euro</div>
<div class="t" id="ti2" style="top:9.45px;font-size:14px;color:#131722;transform:skewX(-10deg);transform-origin:50% 50%;left:48.16px;">/</div>
<div class="t" id="ti3" style="top:9.45px;font-size:14px;color:#131722;transform:scaleX(1.0859);left:59.25px;">U.S.</div>
<div class="t" id="ti4" style="top:9.45px;font-size:14px;color:#131722;transform:scaleX(1.1557);left:94.67px;">Dollar</div>
<div class="t" id="ti5" style="top:10.65px;font-size:14px;color:#131722;font-weight:700;left:141.25px;">·</div>
<div class="t" id="ti6" style="top:9.45px;font-size:14px;color:#131722;transform:scaleX(1.0666);left:149.80px;">4h</div>
<div class="t" id="ti7" style="top:10.65px;font-size:14px;color:#131722;font-weight:700;left:170.66px;">·</div>
<div class="t" id="ti8" style="top:9.45px;font-size:14px;color:#131722;transform:scaleX(1.0469);left:179.02px;">FOREX.com</div>
<div class="t" id="o" style="top:31.80px;font-size:13px;color:#131722;left:7.95px;">O</div>
<div class="t" id="ov" style="top:31.80px;font-size:13px;color:#089981;transform:scaleX(0.9751);left:18.90px;">1.17257</div>
<div class="t" id="h" style="top:31.80px;font-size:13px;color:#131722;transform:scaleX(0.8714);left:71.35px;">H</div>
<div class="t" id="hv" style="top:31.80px;font-size:13px;color:#089981;transform:scaleX(0.9862);left:81.70px;">1.17440</div>
<div class="t" id="l" style="top:31.80px;font-size:13px;color:#131722;transform:scaleX(0.8988);left:134.31px;">L</div>
<div class="t" id="lv" style="top:31.80px;font-size:13px;color:#089981;transform:scaleX(0.9458);left:142.68px;">1.17221</div>
<div class="t" id="c" style="top:31.80px;font-size:13px;color:#131722;transform:scaleX(0.8061);left:195.05px;">C</div>
<div class="t" id="cv" style="top:31.80px;font-size:13px;color:#089981;transform:scaleX(0.9659);left:205.06px;">1.17439</div>
<div class="t" id="chg" style="top:31.80px;font-size:13px;color:#089981;transform:scaleX(0.9730);left:258.14px;">+0.00182 (+0.15%)</div>
<div class="t" id="vol" style="top:55.60px;font-size:13px;color:#131722;transform:scaleX(0.9783);left:8.88px;">Volume</div>
<div class="t" id="sma" style="top:55.60px;font-size:13px;color:#5d606b;transform:scaleX(0.8480);left:55.74px;">SMA 9</div>
<div class="t" id="macd" style="top:392.20px;font-size:13px;color:#131722;transform:scaleX(0.8700);left:8.36px;">MACD</div>
<div class="t" id="macdp" style="top:392.20px;font-size:13px;color:#5d606b;transform:scaleX(0.9639);left:46.06px;">12 26 close 9</div>
<div class="t" id="m1" style="top:392.20px;font-size:13px;color:#22ab94;transform:scaleX(0.9891);left:135.55px;">0.00020</div>
<div class="t" id="m2" style="top:392.20px;font-size:13px;color:#2196f3;transform:scaleX(0.9920);left:189.12px;">0.00069</div>
<div class="t" id="m3" style="top:392.20px;font-size:13px;color:#ff3d7f;transform:scaleX(1.0011);left:242.08px;">0.00049</div>
<div class="t" id="p0" style="top:2.97px;font-size:11.5px;color:#131722;transform:scaleX(0.9737);left:744.24px;">1.18000</div>
<div class="t" id="p1" style="top:32.97px;font-size:11.5px;color:#131722;transform:scaleX(0.9737);left:744.24px;">1.17800</div>
<div class="t" id="p2" style="top:62.97px;font-size:11.5px;color:#131722;transform:scaleX(0.9737);left:744.24px;">1.17600</div>
<div class="t" id="p3" style="top:93.97px;font-size:11.5px;color:#131722;transform:scaleX(0.9737);left:744.24px;">1.17400</div>
<div class="t" id="p4" style="top:123.97px;font-size:11.5px;color:#131722;transform:scaleX(0.9737);left:744.24px;">1.17200</div>
<div class="t" id="p5" style="top:153.97px;font-size:11.5px;color:#131722;transform:scaleX(0.9737);left:744.24px;">1.17000</div>
<div class="t" id="p6" style="top:183.97px;font-size:11.5px;color:#131722;transform:scaleX(0.9737);left:744.24px;">1.16800</div>
<div class="t" id="p7" style="top:214.97px;font-size:11.5px;color:#131722;transform:scaleX(0.9737);left:744.24px;">1.16600</div>
<div class="t" id="p8" style="top:244.97px;font-size:11.5px;color:#131722;transform:scaleX(0.9737);left:744.24px;">1.16400</div>
<div class="t" id="p9" style="top:274.97px;font-size:11.5px;color:#131722;transform:scaleX(0.9737);left:744.24px;">1.16200</div>
<div class="t" id="p10" style="top:304.97px;font-size:11.5px;color:#131722;transform:scaleX(0.9737);left:744.24px;">1.16000</div>
<div class="t" id="p11" style="top:334.97px;font-size:11.5px;color:#131722;transform:scaleX(0.9737);left:744.24px;">1.15800</div>
<div class="t" id="p12" style="top:365.97px;font-size:11.5px;color:#131722;transform:scaleX(0.9737);left:744.24px;">1.15600</div>
<div class="t" id="q0" style="top:382.97px;font-size:11.5px;color:#131722;transform:scaleX(0.9691);left:744.29px;">0.00300</div>
<div class="t" id="q1" style="top:418.97px;font-size:11.5px;color:#131722;transform:scaleX(0.9691);left:744.29px;">0.00200</div>
<div class="t" id="q2" style="top:454.97px;font-size:11.5px;color:#131722;transform:scaleX(0.9691);left:744.29px;">0.00100</div>
<div class="t" id="q3" style="top:490.97px;font-size:11.5px;color:#131722;transform:scaleX(0.9691);left:744.29px;">0.00000</div>
<div class="t" id="q4" style="top:526.97px;font-size:11.5px;color:#131722;transform:scaleX(0.9590);left:743.95px;">−0.00100</div>
<div class="t" id="q5" style="top:562.97px;font-size:11.5px;color:#131722;transform:scaleX(0.9590);left:743.95px;">−0.00200</div>
<div id="curbox" style="position:absolute;left:734px;top:85px;width:56px;height:17px;background:#089981;border-radius:0 2px 2px 0"></div>
<div class="t" id="cur" style="top:88.17px;font-size:11.5px;color:#fff;transform:scaleX(0.9640);left:744.16px;">1.17439</div>
<div class="t" id="t0" style="top:579.74px;font-size:12px;color:#131722;transform:scaleX(0.9413);left:10.43px;">19</div>
<div class="t" id="t1" style="top:579.74px;font-size:12px;color:#131722;transform:scaleX(0.9286);left:117.89px;">22</div>
<div class="t" id="t2" style="top:579.74px;font-size:12px;color:#131722;transform:scaleX(0.9482);left:225.83px;">27</div>
<div class="t" id="t3" style="top:579.74px;font-size:12px;color:#131722;transform:scaleX(0.9254);font-weight:700;left:329.66px;">Sep</div>
<div class="t" id="t4" style="top:579.74px;font-size:12px;color:#131722;transform:scaleX(0.9704);left:445.49px;">4</div>
<div class="t" id="t5" style="top:579.74px;font-size:12px;color:#131722;transform:scaleX(1.0321);left:553.19px;">9</div>
<div class="t" id="t6" style="top:579.74px;font-size:12px;color:#131722;transform:scaleX(0.8683);left:659.11px;">12</div>
</div></body></html>
